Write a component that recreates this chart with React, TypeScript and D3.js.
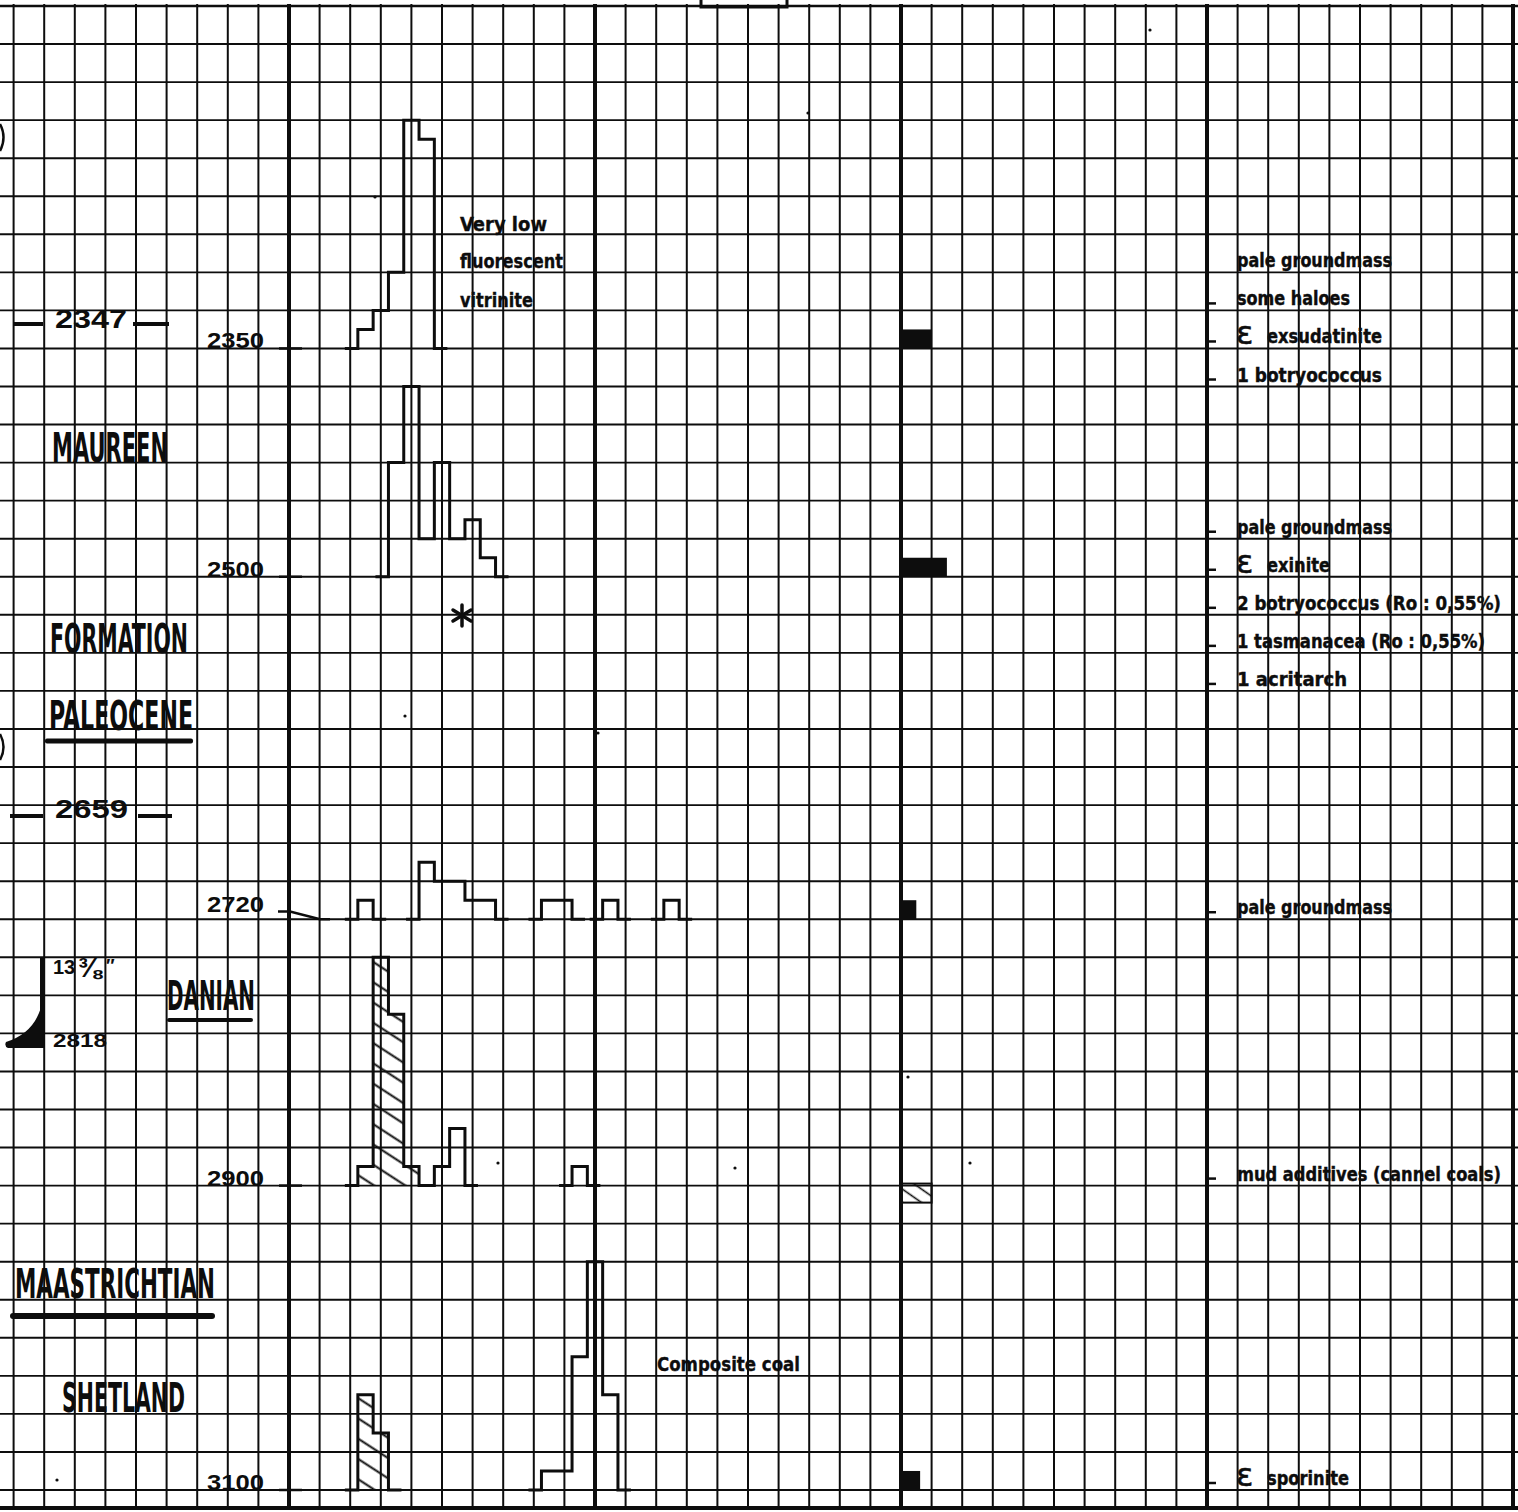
import React from 'react';
import * as d3 from 'd3';

const W = 1518;
const H = 1512;

// ---------- data ----------
const sampleDepths = [2350, 2500, 2720, 2900, 3100];
const depthLabels = ['2350', '2500', '2720', '2900', '3100'];

// histogram: [reflectance class (half grid cell), count (half grid row)]
const hist2350: [number, number][] = [[5, 1], [6, 2], [7, 4], [8, 12], [9, 11]];
const hist2500: [number, number][] = [[7, 6], [8, 10], [9, 2], [10, 6], [11, 2], [12, 3], [13, 1]];
const hist2720: [number, number][] = [[5, 1], [9, 3], [10, 2], [11, 2], [12, 1], [13, 1], [17, 1], [18, 1], [21, 1], [25, 1]];
const hist2900: [number, number][] = [[5, 1], [6, 12], [7, 9], [8, 1], [9, 0], [10, 1], [11, 3], [19, 1]];
const hist3100: [number, number][] = [[5, 5], [6, 3], [17, 1], [18, 1], [19, 7], [20, 12], [21, 5]];

const hatched2350: number[] = [];
const hatched2500: number[] = [];
const hatched2720: number[] = [];
const hatched2900 = [5, 6, 7, 8];
const hatched3100 = [5, 6];

// abundance bar (in classes)
const barWidths = [2, 3, 1, 2, 1.25];
const barHatched = [false, false, false, true, false];

const notes2350 = ['pale groundmass', 'some haloes', 'ε exsudatinite', '1 botryococcus'];
const notes2500 = ['pale groundmass', 'ε exinite', '2 botryococcus (Ro : 0,55%)', '1 tasmanacea (Ro : 0,55%)', '1 acritarch'];
const notes2720 = ['pale groundmass'];
const notes2900 = ['mud additives (cannel coals)'];
const notes3100 = ['ε sporinite'];

const formationTops = ['2347', '2659'];
const unitNames = ['MAUREEN', 'FORMATION', 'PALEOCENE', 'DANIAN', 'MAASTRICHTIAN', 'SHETLAND'];

// ---------- layout ----------
const noteRowOffset = [-2, -1, 0, 0, 0];
const noteWidths: Record<string, number> = {
  'pale groundmass': 155,
  'some haloes': 113,
  'exsudatinite': 115,
  '1 botryococcus': 145,
  'exinite': 63,
  '2 botryococcus (Ro : 0,55%)': 264,
  '1 tasmanacea (Ro : 0,55%)': 248,
  '1 acritarch': 110,
  'mud additives (cannel coals)': 264,
  'sporinite': 82,
};
const specks: [number, number][] = [[1150, 30], [405, 716], [598, 733], [908, 1077], [498, 1163], [970, 1163], [735, 1168], [57, 1480], [808, 113], [375, 197]];

const FONT_NUM = "'Liberation Sans', Arial, Helvetica, sans-serif";
const FONT_COND = "'Liberation Sans Narrow', 'DejaVu Sans Condensed', 'Liberation Sans', sans-serif";
const INK = '#0d0d0d';

function runs(h: [number, number][]) {
  const out: [number, number][][] = [];
  h.forEach((p, i) => {
    if (i === 0 || p[0] !== h[i - 1][0] + 1) out.push([p]);
    else out[out.length - 1].push(p);
  });
  return out;
}

export default function App() {
  const classX = d3.scaleLinear().domain([0, 80]).range([289, 1513]);
  const rowY = d3.scaleLinear().domain([0, 39]).range([6, 1490]);
  const depthRow = d3.scaleLinear().domain([2125, 3100]).range([0, 39]);
  const rowH = rowY(1) - rowY(0);
  const countH = d3.scaleLinear().domain([0, 2]).range([0, rowH]);
  const line = d3.line();
  const stub = 13;

  const hists = [hist2350, hist2500, hist2720, hist2900, hist3100];
  const hatchedSets = [hatched2350, hatched2500, hatched2720, hatched2900, hatched3100];
  const notes = [notes2350, notes2500, notes2720, notes2900, notes3100];

  const samples = sampleDepths.map((d, i) => {
    const baseRow = Math.round(depthRow(d));
    return {
      depth: d,
      label: depthLabels[i],
      base: rowY(baseRow),
      baseRow,
      tickY: rowY(depthRow(d)),
      hist: hists[i],
      hatched: hatchedSets[i],
      bar: barWidths[i],
      barHatched: barHatched[i],
      notes: notes[i],
      noteRow: baseRow + noteRowOffset[i],
    };
  });

  const vCols = d3.range(-9, 41);
  const hRows = d3.range(0, 40);

  return (
    <svg width={W} height={H} style={{ position: 'absolute', left: 0, top: 0, display: 'block', background: '#fff' }}>
      <defs>
        <pattern id="hatch" patternUnits="userSpaceOnUse" width={17} height={17} patternTransform="rotate(33)">
          <line x1={0} y1={8.5} x2={17} y2={8.5} stroke={INK} strokeWidth={2} />
        </pattern>
        <pattern id="hatchSmall" patternUnits="userSpaceOnUse" width={11} height={11} patternTransform="rotate(35)">
          <line x1={0} y1={5.5} x2={11} y2={5.5} stroke={INK} strokeWidth={1.6} />
        </pattern>
      </defs>
      <rect x={0} y={0} width={W} height={H} fill="#fff" />

      {/* grid */}
      <g stroke={INK}>
        {hRows.map(k => (
          <line key={'h' + k} x1={0} x2={W} y1={rowY(k)} y2={rowY(k)} strokeWidth={k === 0 ? 2.5 : 1.9} />
        ))}
        <line x1={0} x2={W} y1={1508} y2={1508} strokeWidth={4} />
        {vCols.map(c => (
          <line key={'v' + c} x1={classX(c * 2)} x2={classX(c * 2)} y1={4} y2={1510}
            strokeWidth={c % 10 === 0 ? 4 : 2} />
        ))}
      </g>

      {/* top box fragment & edge marks */}
      <rect x={701} y={-10} width={86} height={17} fill="none" stroke={INK} strokeWidth={3} />
      <path d="M0,124 Q7,137 0,151" fill="none" stroke={INK} strokeWidth={2.5} />
      <path d="M0,734 Q7,747 0,760" fill="none" stroke={INK} strokeWidth={2.5} />
      {specks.map((p, i) => <circle key={'sp' + i} cx={p[0]} cy={p[1]} r={1.6} fill={INK} />)}

      {/* samples */}
      {samples.map((s, si) => {
        const tickPts: [number, number][] = Math.abs(s.tickY - s.base) < 1
          ? [[279, s.base], [302, s.base]]
          : [[278, s.tickY], [290, s.tickY], [320, s.base], [330, s.base]];
        const rs = runs(s.hist);
        const hatchedRuns = runs(s.hist.filter(p => s.hatched.includes(p[0])));
        const barY = s.barHatched ? s.base - 2 : s.base - countH(1);
        return (
          <g key={'s' + si}>
            <text x={264} y={s.tickY} textAnchor="end" fontFamily={FONT_NUM} fontWeight="bold" fontSize={22}
              textLength={57} lengthAdjust="spacingAndGlyphs" fill={INK}>{s.label}</text>
            <path d={line(tickPts) || ''} fill="none" stroke={INK} strokeWidth={2.5} />
            {hatchedRuns.map((r, ri) => {
              const pts: [number, number][] = [[classX(r[0][0] - 0.5), s.base]];
              r.forEach(([c, n]) => {
                pts.push([classX(c - 0.5), s.base - countH(n)]);
                pts.push([classX(c + 0.5), s.base - countH(n)]);
              });
              pts.push([classX(r[r.length - 1][0] + 0.5), s.base]);
              return <path key={'hr' + ri} d={(line(pts) || '') + 'Z'} fill="url(#hatch)" stroke="none" />;
            })}
            {rs.map((r, ri) => {
              const L = classX(r[0][0] - 0.5);
              const R = classX(r[r.length - 1][0] + 0.5);
              const pts: [number, number][] = [[L - stub, s.base], [L, s.base]];
              r.forEach(([c, n]) => {
                pts.push([classX(c - 0.5), s.base - countH(n)]);
                pts.push([classX(c + 0.5), s.base - countH(n)]);
              });
              pts.push([R, s.base]);
              pts.push([R + stub, s.base]);
              return <path key={'r' + ri} d={line(pts) || ''} fill="none" stroke={INK} strokeWidth={3} strokeLinejoin="miter" />;
            })}
            {/* abundance bar */}
            <rect x={classX(40) + 1} y={barY} width={classX(40 + s.bar) - classX(40) - 1}
              height={countH(1)} fill={s.barHatched ? 'url(#hatchSmall)' : INK}
              stroke={INK} strokeWidth={s.barHatched ? 2 : 0} />
            {/* notes */}
            {s.notes.map((t, ti) => {
              const y = rowY(s.noteRow + ti) - 5;
              const eps = t.startsWith('ε ');
              const word = eps ? t.slice(2) : t;
              const wx = eps ? 1267 : 1237;
              const showTick = !(si === 0 && ti === 0);
              return (
                <g key={'n' + ti}>
                  {showTick && <line x1={1207} x2={1216} y1={y - 2} y2={y - 2} stroke={INK} strokeWidth={2.5} />}
                  {eps && (
                    <text x={1236} y={y + 1} fontFamily="'DejaVu Sans', sans-serif" fontSize={32} fill={INK}
                      stroke={INK} strokeWidth={0.6}>ε</text>
                  )}
                  <g transform={`translate(${wx},${y}) scale(1,1.18)`}>
                    <text x={0} y={0} fontFamily={FONT_COND} fontWeight="bold" fontSize={17} fill={INK}
                      stroke={INK} strokeWidth={0.35}
                      textLength={noteWidths[word]} lengthAdjust="spacingAndGlyphs">{word}</text>
                  </g>
                </g>
              );
            })}
          </g>
        );
      })}

      {/* histogram annotations */}
      <g fontFamily={FONT_COND} fontWeight="bold" fontSize={20} fill={INK} stroke={INK} strokeWidth={0.35}>
        <text x={460} y={231} textLength={87} lengthAdjust="spacingAndGlyphs">Very low</text>
        <text x={460} y={268} textLength={103} lengthAdjust="spacingAndGlyphs">fluorescent</text>
        <text x={460} y={307} textLength={73} lengthAdjust="spacingAndGlyphs">vitrinite</text>
        <text x={657} y={1371} textLength={143} lengthAdjust="spacingAndGlyphs">Composite coal</text>
      </g>
      <g stroke={INK} strokeWidth={3.5} strokeLinecap="round">
        <line x1={462} y1={605} x2={462} y2={626} />
        <line x1={453} y1={610} x2={471} y2={621} />
        <line x1={453} y1={621} x2={471} y2={610} />
      </g>

      {/* formation tops */}
      <g fill={INK}>
        <text x={55} y={328} fontFamily={FONT_NUM} fontWeight="bold" fontSize={26}
          textLength={72} lengthAdjust="spacingAndGlyphs">{formationTops[0]}</text>
        <rect x={14} y={322} width={29} height={4} />
        <rect x={133} y={322} width={36} height={4} />
        <text x={55} y={818} fontFamily={FONT_NUM} fontWeight="bold" fontSize={26}
          textLength={73} lengthAdjust="spacingAndGlyphs">{formationTops[1]}</text>
        <rect x={10} y={814} width={33} height={4} />
        <rect x={138} y={814} width={34} height={4} />
      </g>

      {/* unit names */}
      <g fontFamily={FONT_COND} fontWeight="bold" fontSize={40} fill={INK}>
        <text x={52} y={462} textLength={116} lengthAdjust="spacingAndGlyphs">{unitNames[0]}</text>
        <text x={50} y={653} textLength={138} lengthAdjust="spacingAndGlyphs">{unitNames[1]}</text>
        <text x={49} y={730} textLength={144} lengthAdjust="spacingAndGlyphs">{unitNames[2]}</text>
        <text x={167} y={1010} textLength={88} lengthAdjust="spacingAndGlyphs">{unitNames[3]}</text>
        <text x={15} y={1298} textLength={200} lengthAdjust="spacingAndGlyphs">{unitNames[4]}</text>
        <text x={62} y={1412} textLength={123} lengthAdjust="spacingAndGlyphs">{unitNames[5]}</text>
      </g>
      <g fill={INK}>
        <rect x={45} y={738.5} width={148} height={5} rx={2} />
        <rect x={167} y={1018} width={86} height={4} rx={2} />
        <rect x={10} y={1313} width={205} height={6} rx={3} />
      </g>

      {/* casing shoe */}
      <line x1={42} y1={957} x2={42} y2={1048} stroke={INK} strokeWidth={4} />
      <path d="M43,998 Q38,1032 6,1042 Q4,1046 8,1048 L44,1048 Z" fill={INK} />
      <g fontFamily={FONT_NUM} fontWeight="bold" fill={INK}>
        <text x={53} y={974} fontSize={20}>13</text>
        <text x={78} y={977} fontSize={28}>⅜</text>
        <text x={106} y={972} fontSize={18}>″</text>
        <text x={53} y={1047} fontSize={19} textLength={54} lengthAdjust="spacingAndGlyphs">2818</text>
      </g>
    </svg>
  );
}
